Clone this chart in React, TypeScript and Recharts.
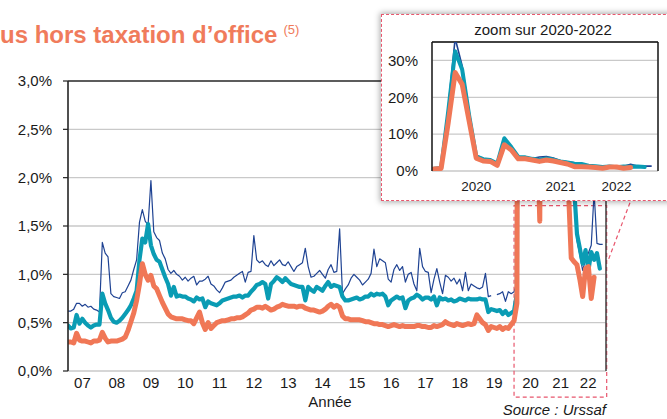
import React from 'react';
import {
  LineChart, Line, XAxis, YAxis, CartesianGrid, ReferenceLine, ReferenceArea,
} from 'recharts';

// ---------- DATA (monthly, Jan 2007 -> Dec 2019) ----------
const navyPre: (number | null)[] = [
  0.62, 0.62, 0.64, 0.70, 0.70, 0.67, 0.69, 0.66, 0.67, 0.64, 0.63, 0.61,
  1.33, 1.22, 1.18, 0.80, 0.77, 0.76, 0.75, 0.81, 0.82, 0.88, 0.94, 1.05,
  1.15, 1.54, 1.67, 1.55, 1.51, 1.97, 1.44, 1.38, 1.35, 1.22, 1.16, 1.05,
  1.01, 1.04, 1.00, 0.98, 0.94, 0.97, 0.93, 0.96, 0.98, 0.89, 0.93, 0.93,
  0.95, 0.98, 0.90, 0.88, 0.84, 0.81, 0.86, 0.92, 0.93, 0.94, 0.97, 0.99,
  1.01, 1.03, 0.92, 1.02, 1.03, 1.40, 1.15, 1.12, 1.14, 1.10, 1.08, 1.14,
  1.09, 1.12, 1.15, 1.10, 1.09, 1.13, 1.08, 1.03, 1.08, 1.10, 1.12, 1.27,
  1.08, 0.97, 0.98, 1.01, 1.04, 1.00, 0.96, 1.05, 1.10, 1.02, 1.03, 1.47,
  0.80, 0.85, 0.89, 0.96, 1.00, 0.97, 0.94, 0.89, 0.92, 0.95, 1.01, 1.26,
  1.08, 1.16, 1.14, 1.12, 0.95, 0.92, 1.05, 1.10, 1.04, 1.08, 0.92, 1.00,
  1.02, 0.90, 0.83, 1.27, 1.08, 1.03, 1.02, 0.81, 0.95, 1.06, 0.92, 0.80,
  0.99, 0.97, 0.93, 0.96, 0.90, 0.95, 0.83, 1.02, 0.83, 0.90, 0.88, 0.86,
  0.85, 0.87, 1.01, 0.77, 0.78, null, 0.79, 0.80, 0.82, 0.72, 0.82, 0.80,
];
const tealPre: number[] = [
  0.47, 0.44, 0.45, 0.58, 0.49, 0.54, 0.50, 0.47, 0.45, 0.47, 0.48, 0.48,
  0.80, 0.70, 0.63, 0.55, 0.51, 0.50, 0.52, 0.55, 0.59, 0.63, 0.68, 0.75,
  0.83, 1.15, 1.37, 1.33, 1.52, 1.30, 1.21, 1.15, 1.13, 1.05, 0.97, 0.90,
  0.78, 0.87, 0.77, 0.78, 0.77, 0.77, 0.75, 0.74, 0.72, 0.76, 0.74, 0.75,
  0.66, 0.72, 0.70, 0.69, 0.68, 0.70, 0.73, 0.74, 0.75, 0.76, 0.77, 0.77,
  0.78, 0.76, 0.78, 0.78, 0.82, 0.85, 0.89, 0.90, 0.92, 0.90, 0.75, 0.90,
  0.93, 0.97, 0.95, 0.92, 0.96, 0.93, 0.90, 0.89, 0.88, 0.87, 0.87, 0.73,
  0.87, 0.84, 0.82, 0.87, 0.85, 0.83, 0.88, 0.92, 0.87, 0.89, 0.88, 0.87,
  0.77, 0.73, 0.73, 0.74, 0.75, 0.76, 0.74, 0.75, 0.77, 0.77, 0.80, 0.78,
  0.80, 0.79, 0.80, 0.77, 0.68, 0.73, 0.75, 0.77, 0.75, 0.76, 0.65, 0.73,
  0.75, 0.76, 0.79, 0.77, 0.74, 0.76, 0.76, 0.74, 0.77, 0.68, 0.76, 0.74,
  0.75, 0.73, 0.74, 0.72, 0.73, 0.75, 0.74, 0.73, 0.75, 0.74, 0.74, 0.74,
  0.75, 0.74, 0.74, 0.61, 0.64, 0.63, 0.62, 0.63, 0.59, 0.62, 0.58, 0.60,
];
const orangePre: number[] = [
  0.30, 0.30, 0.29, 0.39, 0.32, 0.31, 0.31, 0.30, 0.29, 0.31, 0.31, 0.32,
  0.40, 0.34, 0.30, 0.31, 0.31, 0.31, 0.32, 0.33, 0.35, 0.42, 0.51, 0.60,
  0.73, 0.90, 1.11, 1.00, 0.94, 0.99, 0.88, 0.85, 0.78, 0.71, 0.65, 0.59,
  0.56, 0.55, 0.54, 0.54, 0.54, 0.53, 0.52, 0.52, 0.49, 0.55, 0.61, 0.50,
  0.43, 0.50, 0.44, 0.47, 0.50, 0.51, 0.52, 0.52, 0.53, 0.54, 0.54, 0.55,
  0.55, 0.56, 0.58, 0.60, 0.63, 0.64, 0.66, 0.66, 0.65, 0.67, 0.65, 0.63,
  0.64, 0.66, 0.67, 0.69, 0.68, 0.67, 0.67, 0.67, 0.66, 0.67, 0.67, 0.65,
  0.64, 0.63, 0.63, 0.62, 0.61, 0.62, 0.64, 0.67, 0.69, 0.66, 0.68, 0.66,
  0.57, 0.54, 0.54, 0.53, 0.53, 0.53, 0.53, 0.52, 0.51, 0.51, 0.50, 0.49,
  0.49, 0.48, 0.48, 0.47, 0.46, 0.47, 0.48, 0.47, 0.46, 0.47, 0.46, 0.46,
  0.46, 0.46, 0.47, 0.47, 0.46, 0.46, 0.45, 0.45, 0.47, 0.46, 0.47, 0.48,
  0.51, 0.49, 0.48, 0.47, 0.49, 0.48, 0.47, 0.48, 0.49, 0.48, 0.49, 0.58,
  0.54, 0.50, 0.48, 0.42, 0.46, 0.45, 0.44, 0.46, 0.43, 0.45, 0.44, 0.48,
];

// ---------- DATA (monthly, Jan 2020 -> Aug 2022) ----------
const navyCovid: number[] = [
  0.82, 0.9, 17, 36, 28.5, 16, 4.3, 3.4, 3.2, 2.2, 8.7, 6.5,
  3.9, 3.8, 3.4, 3.8, 3.9, 3.5, 2.8, 2.5, 2.2, 2.0, 1.35, 1.2,
  1.04, 1.15, 1.22, 1.3, 1.85, 1.32, 1.31, 1.31,
];
const tealCovid: number[] = [
  0.62, 0.8, 16, 32.5, 27.5, 15, 4.0, 3.2, 3.0, 2.0, 8.9, 6.5,
  3.8, 3.7, 3.3, 3.0, 3.4, 3.1, 2.6, 2.3, 2.0, 1.9, 1.42, 1.27,
  1.11, 1.25, 1.04, 1.23, 1.15, 1.22, 1.06,
];
const orangeCovid: number[] = [
  0.52, 0.7, 13, 26.7, 23.5, 13.5, 3.5, 2.7, 2.6, 1.55, 7.1, 5.7,
  3.3, 3.3, 3.0, 2.6, 3.0, 2.7, 2.3, 1.9, 1.17, 1.13, 1.10, 0.95,
  0.77, 1.06, 1.08, 0.75, 0.97,
];

const yearTicks = [2007, 2008, 2009, 2010, 2011, 2012, 2013, 2014, 2015, 2016, 2017, 2018, 2019, 2020, 2021, 2022];
const yearLabels = ['07', '08', '09', '10', '11', '12', '13', '14', '15', '16', '17', '18', '19', '20', '21', '22'];
const yearLabelPos = [2007.42, 2008.42, 2009.42, 2010.42, 2011.42, 2012.42, 2013.42, 2014.42, 2015.42, 2016.42, 2017.42, 2018.42, 2019.42, 2020.48, 2021.36, 2022.16];
const yTicks = [0, 0.5, 1, 1.5, 2, 2.5, 3];

const insetTicks = [6, 12, 18, 24, 30];
const insetGrid = [12, 24];
const insetLabelPos = [6, 18, 26];
const insetLabels = ['2020', '2021', '2022'];
const insetYTicks = [0, 10, 20, 30];

// ---------- derived tables ----------
const START = 2007;
const total = navyPre.length + navyCovid.length;
const mainData = Array.from({ length: total }, (_, i) => {
  const pre = i < navyPre.length;
  const j = i - navyPre.length;
  return {
    x: START + i / 12,
    navy: pre ? navyPre[i] : navyCovid[j] ?? null,
    teal: pre ? tealPre[i] : tealCovid[j] ?? null,
    orange: pre ? orangePre[i] : orangeCovid[j] ?? null,
  };
});
const insetData = navyCovid.map((v, i) => ({
  m: i,
  navy: v,
  teal: tealCovid[i] ?? null,
  orange: orangeCovid[i] ?? null,
}));

const NAVY = '#1f4393';
const TEAL = '#0a9cb4';
const ORANGE = '#f07756';
const PINK = '#e8566d';
const GRID = '#c9c9c9';
const FONT = '"Liberation Sans", Arial, Helvetica, sans-serif';
const X_MAX = 2022.68;

export default function App() {
  return (
    <div style={{ position: 'absolute', left: 0, top: 0, width: 667, height: 419, overflow: 'hidden', background: '#fff', fontFamily: FONT }}>
      {/* Title */}
      <div style={{ position: 'absolute', left: 0, top: 23, whiteSpace: 'nowrap', fontSize: 24, lineHeight: '24px', fontWeight: 700, color: '#f07b5b' }}>
        us hors taxation d’office
        <span style={{ fontSize: 13, fontWeight: 400, position: 'relative', top: -9, marginLeft: 6 }}>(5)</span>
      </div>

      {/* Main chart */}
      <div style={{ position: 'absolute', left: 0, top: 0 }}>
        <LineChart width={667} height={419} data={mainData} margin={{ top: 81, right: 61, bottom: 18, left: 8 }}>
          <CartesianGrid xAxisId="years" stroke={GRID} strokeWidth={1.3} />
          <XAxis xAxisId="years" dataKey="x" type="number" domain={[START, X_MAX]} allowDataOverflow
            ticks={yearTicks} interval={0} tick={false} tickSize={5} height={0}
            axisLine={{ stroke: '#222', strokeWidth: 1.5 }} tickLine={{ stroke: '#222', strokeWidth: 1.2 }} />
          <XAxis xAxisId="labels" dataKey="x" type="number" domain={[START, X_MAX]} allowDataOverflow
            ticks={yearLabelPos} interval={0} tickFormatter={(_v: number, i: number) => yearLabels[i]}
            tickLine={false} axisLine={false} tickSize={0} tickMargin={6} height={30}
            tick={{ fontSize: 15, fill: '#1a1a1a', fontFamily: FONT }} />
          <YAxis domain={[0, 3]} allowDataOverflow ticks={yTicks} interval={0} width={60}
            tickFormatter={(v: number) => v.toFixed(1).replace('.', ',') + '%'}
            tickSize={5} tickMargin={11}
            axisLine={{ stroke: '#222', strokeWidth: 1.5 }} tickLine={{ stroke: '#222', strokeWidth: 1.2 }}
            tick={{ fontSize: 15, fill: '#1a1a1a', fontFamily: FONT }} />
          <ReferenceLine xAxisId="years" y={3} stroke="#333" strokeWidth={1.3} />
          <ReferenceLine xAxisId="years" x={X_MAX} stroke="#333" strokeWidth={1.3} />
          <ReferenceArea xAxisId="years" x1={2020} x2={2022.7} y1={-0.27} y2={1.71} ifOverflow="visible"
            fill="none" fillOpacity={0} stroke={PINK} strokeDasharray="4 3" strokeWidth={1.2} />
          <ReferenceLine xAxisId="years" ifOverflow="visible" stroke={PINK} strokeDasharray="4 3" strokeWidth={1.2}
            segment={[{ x: 2022.76, y: 1.16 }, { x: 2023.42, y: 1.78 }]} />
          <Line xAxisId="years" dataKey="navy" stroke={NAVY} strokeWidth={1.2} dot={false} isAnimationActive={false} connectNulls={false} strokeLinejoin="round" />
          <Line xAxisId="years" dataKey="teal" stroke={TEAL} strokeWidth={4.2} dot={false} isAnimationActive={false} strokeLinejoin="round" strokeLinecap="round" />
          <Line xAxisId="years" dataKey="orange" stroke={ORANGE} strokeWidth={5} dot={false} isAnimationActive={false} strokeLinejoin="round" strokeLinecap="round" />
        </LineChart>
      </div>

      {/* Axis title and source */}
      <div style={{ position: 'absolute', left: 280, top: 393, width: 100, textAlign: 'center', fontSize: 15, lineHeight: '18px', color: '#1a1a1a' }}>Année</div>
      <div style={{ position: 'absolute', left: 455, top: 401, width: 151, textAlign: 'right', fontSize: 15, lineHeight: '17px', fontStyle: 'italic', color: '#1a1a1a' }}>Source : Urssaf</div>

      {/* Inset box */}
      <div style={{ position: 'absolute', left: 381, top: 14, width: 300, height: 187, boxSizing: 'border-box', border: `1.5px dashed ${PINK}`, background: '#fff', boxShadow: '0 0 6px 1px rgba(0,0,0,0.35)' }} />
      <div style={{ position: 'absolute', left: 443, top: 21, width: 200, textAlign: 'center', fontSize: 15, lineHeight: '18px', color: '#1a1a1a', whiteSpace: 'nowrap' }}>zoom sur 2020-2022</div>
      <div style={{ position: 'absolute', left: 381, top: 14 }}>
        <LineChart width={286} height={187} data={insetData} margin={{ top: 28, right: 9, bottom: 8, left: 11 }}>
          <CartesianGrid xAxisId="g" stroke={GRID} strokeWidth={1.3} />
          <XAxis xAxisId="g" dataKey="m" type="number" domain={[-0.3, 31.9]} allowDataOverflow ticks={insetGrid} interval={0}
            tick={false} tickLine={false} axisLine={false} height={0} />
          <XAxis xAxisId="t" dataKey="m" type="number" domain={[-0.3, 31.9]} allowDataOverflow ticks={insetTicks} interval={0}
            tick={false} tickSize={4} height={0}
            axisLine={{ stroke: '#111', strokeWidth: 1.4 }} tickLine={{ stroke: '#111', strokeWidth: 1.2 }} />
          <XAxis xAxisId="l" dataKey="m" type="number" domain={[-0.3, 31.9]} allowDataOverflow ticks={insetLabelPos} interval={0}
            tickFormatter={(_v: number, i: number) => insetLabels[i]} tickLine={false} axisLine={false} tickSize={0} tickMargin={10} height={22}
            tick={{ fontSize: 13.5, fill: '#1a1a1a', fontFamily: FONT }} />
          <YAxis domain={[0, 35]} allowDataOverflow ticks={insetYTicks} interval={0} width={40}
            tickFormatter={(v: number) => v + '%'} tickLine={false} tickSize={0} tickMargin={14}
            axisLine={{ stroke: '#111', strokeWidth: 1.4 }}
            tick={{ fontSize: 15, fill: '#1a1a1a', fontFamily: FONT }} />
          <ReferenceLine xAxisId="t" y={35} stroke="#111" strokeWidth={1.4} />
          <ReferenceLine xAxisId="t" x={31.9} stroke="#111" strokeWidth={1.4} />
          <Line xAxisId="t" dataKey="navy" stroke={NAVY} strokeWidth={1.6} dot={false} isAnimationActive={false} strokeLinejoin="round" />
          <Line xAxisId="t" dataKey="teal" stroke={TEAL} strokeWidth={4} dot={false} isAnimationActive={false} strokeLinejoin="round" strokeLinecap="round" />
          <Line xAxisId="t" dataKey="orange" stroke={ORANGE} strokeWidth={5} dot={false} isAnimationActive={false} strokeLinejoin="round" strokeLinecap="round" />
        </LineChart>
      </div>
    </div>
  );
}
